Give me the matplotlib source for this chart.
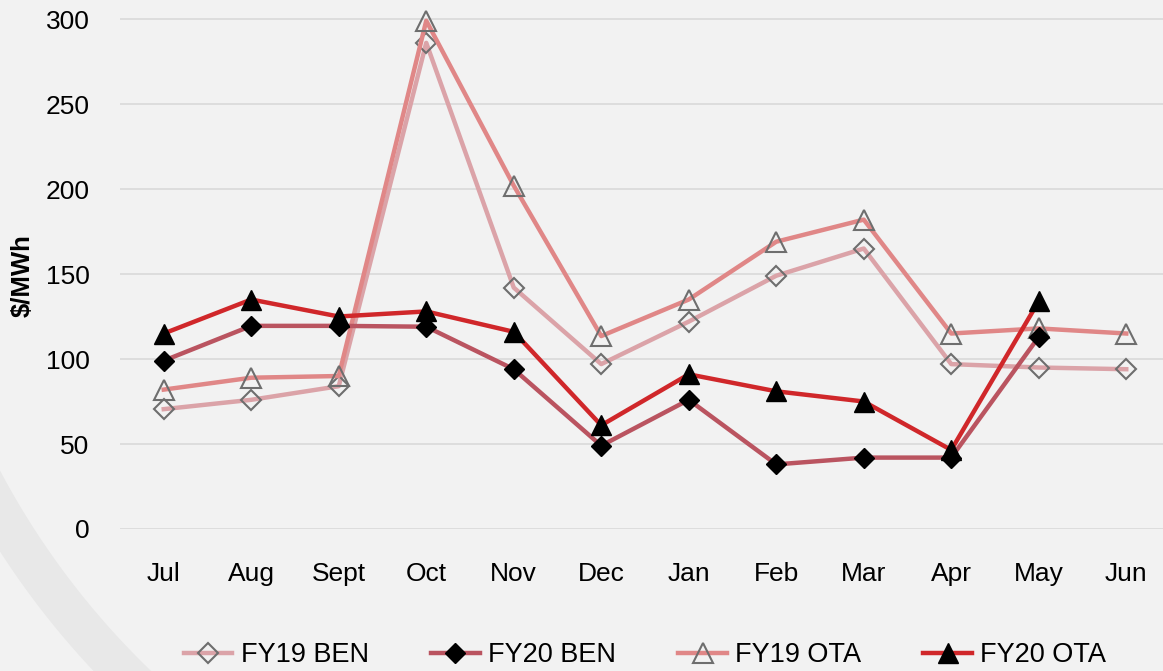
import numpy as np
import matplotlib
matplotlib.use("Agg")
import matplotlib.pyplot as plt
from matplotlib.patches import Polygon

# Monthly prices ($/MWh)
months = ["Jul", "Aug", "Sept", "Oct", "Nov", "Dec", "Jan", "Feb", "Mar", "Apr", "May", "Jun"]
fy19_ben = [70.5, 76, 84, 286, 142, 97, 122, 149, 165, 97, 95, 94]
fy20_ben = [99, 119.5, 119.5, 119, 94, 49, 76, 38, 42, 42, 113, np.nan]
fy19_ota = [82, 89, 90, 299, 202, 113.5, 135, 169, 182, 115, 118, 115]
fy20_ota = [115, 135, 125, 128, 116, 61, 91, 81, 75, 46.5, 134, np.nan]

plt.rcParams['font.family'] = ['Liberation Sans', 'DejaVu Sans']

W, H = 1163, 671
fig = plt.figure(figsize=(W / 100, H / 100), dpi=100)
fig.patch.set_facecolor("#f2f2f2")

# faint decorative arc in the lower-left corner (pixel coords, y up)
cx, cy = 700, 571
th = np.linspace(np.pi * 0.9, np.pi * 1.6, 200)
outer = np.c_[cx + 833 * np.cos(th), cy + 833 * np.sin(th)]
inner = np.c_[cx + 792 * np.cos(th[::-1]), cy + 792 * np.sin(th[::-1])]
pts = np.vstack([outer, inner]) / [W, H]
fig.patches.append(Polygon(pts, closed=True, transform=fig.transFigure,
                           facecolor="#e8e8e8", edgecolor="none", zorder=0))

ax = fig.add_axes([120 / W, (H - 529) / H, (W - 120) / W, 529 / H])
ax.set_facecolor("none")

x = np.arange(len(months))
ax.plot(x, fy19_ben, color="#dba3a8", lw=3.2, marker="D", ms=10, mfc="none",
        mec="#6e6e6e", mew=1.5, label="FY19 BEN", clip_on=False, zorder=3)
ax.plot(x, fy20_ben, color="#ba5460", lw=3.2, marker="D", ms=10, mfc="black",
        mec="black", label="FY20 BEN", clip_on=False, zorder=4)
ax.plot(x, fy19_ota, color="#e08787", lw=3.2, marker="^", ms=14, mfc="none",
        mec="#6e6e6e", mew=1.5, label="FY19 OTA", clip_on=False, zorder=3)
ax.plot(x, fy20_ota, color="#d0272a", lw=3.2, marker="^", ms=14, mfc="black",
        mec="black", label="FY20 OTA", clip_on=False, zorder=5)

ax.set_xlim(-0.5, 11.42)
ax.set_ylim(0, 311.2)
ax.set_yticks(range(0, 301, 50))
ax.set_xticks(x)
ax.set_xticklabels(months)
ax.tick_params(axis="both", length=0, labelsize=19)
ax.tick_params(axis="y", pad=22)
ax.tick_params(axis="x", pad=24)
ax.grid(axis="y", color="#d9d9d9", lw=1.2)
ax.set_axisbelow(True)
for s in ax.spines.values():
    s.set_visible(False)

ax.set_ylabel("$/MWh", fontsize=18.5, fontweight="bold")
ax.yaxis.set_label_coords(-0.082, 0.48)

fig.legend(loc="center", bbox_to_anchor=(645 / W, 1 - 655 / H), ncol=4,
           frameon=False, fontsize=19.5, handlelength=1.8, handletextpad=0.3,
           columnspacing=2.3)

fig.savefig("out.png", dpi=100, facecolor=fig.get_facecolor())
